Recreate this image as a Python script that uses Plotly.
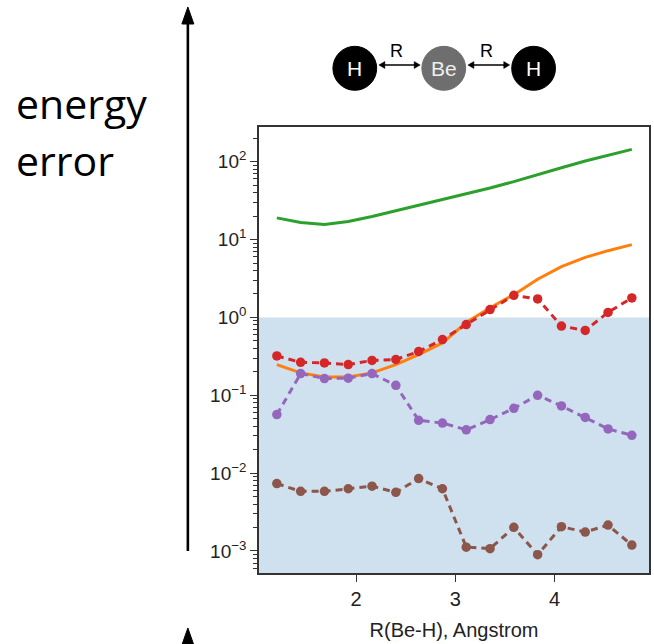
import plotly.graph_objects as go

# ---------------- data ----------------
r_vals = [1.20, 1.44, 1.68, 1.92, 2.16, 2.40, 2.63, 2.87, 3.11, 3.35, 3.59, 3.83, 4.07, 4.31, 4.54, 4.78]

green_err = [19.0, 16.6, 15.6, 17.1, 19.8, 23.4, 27.6, 32.6, 38.8, 46.0, 55.5, 68.6, 83.7, 102, 120, 144]
orange_err = [0.248, 0.194, 0.172, 0.172, 0.194, 0.248, 0.333, 0.47, 0.86, 1.33, 1.96, 3.1, 4.5, 5.9, 7.2, 8.6]
red_err = [0.32, 0.265, 0.26, 0.248, 0.28, 0.288, 0.365, 0.52, 0.81, 1.26, 1.92, 1.73, 0.775, 0.68, 1.16, 1.78]
purple_err = [0.0565, 0.19, 0.164, 0.166, 0.19, 0.134, 0.0477, 0.044, 0.036, 0.0487, 0.068, 0.10, 0.073, 0.052, 0.037, 0.0306]
brown_err = [0.00733, 0.00583, 0.00583, 0.0063, 0.0068, 0.00566, 0.0085, 0.0063, 0.00112, 0.00107, 0.00201, 0.000896, 0.00205, 0.00175, 0.00215, 0.00119]

y_tick_vals = [1e-3, 1e-2, 1e-1, 1, 10, 100]
y_tick_text = ["10<sup>\u22123</sup>", "10<sup>\u22122</sup>", "10<sup>\u22121</sup>",
               "10<sup>0</sup>", "10<sup>1</sup>", "10<sup>2</sup>"]
x_tick_vals = [2, 3, 4]
minor_vals = [m * 10 ** e for e in range(-4, 3) for m in range(2, 10)]

# ---------------- layout geometry (pixels) ----------------
W, H = 654, 644
L, R, T, B = 259, 651, 127, 573


def pxx(x):
    return (x - L) / (R - L)


def pxy(y):
    return (B - y) / (B - T)


fig = go.Figure()

fig.add_trace(go.Scatter(x=r_vals, y=orange_err, mode="lines",
                         line=dict(color="#ff7f0e", width=3), showlegend=False))
fig.add_trace(go.Scatter(x=r_vals, y=green_err, mode="lines",
                         line=dict(color="#2ca02c", width=3), showlegend=False))
for ys, col in [(red_err, "#d62728"), (purple_err, "#9467bd"), (brown_err, "#8c564b")]:
    fig.add_trace(go.Scatter(x=r_vals, y=ys, mode="lines+markers",
                             line=dict(color=col, width=3, dash="7px,5px"),
                             marker=dict(color=col, size=9.5),
                             showlegend=False))

shapes = []
# shaded region below 1
shapes.append(dict(type="rect", xref="paper", yref="y", x0=0, x1=1, y0=1e-4, y1=1,
                   fillcolor="#cfe0ee", line=dict(width=0), layer="below"))

# big energy axis arrow
ax_x = 187.5
shapes.append(dict(type="line", xref="paper", yref="paper",
                   x0=pxx(ax_x), x1=pxx(ax_x), y0=pxy(551), y1=pxy(20),
                   line=dict(color="black", width=2.6)))


def tri(tipx, tipy, basey, half):
    return (f"M {pxx(tipx)} {pxy(tipy)} L {pxx(tipx - half)} {pxy(basey)} "
            f"L {pxx(tipx + half)} {pxy(basey)} Z")


shapes.append(dict(type="path", xref="paper", yref="paper", path=tri(ax_x, 7, 24, 6),
                   fillcolor="black", line=dict(color="black", width=1)))
shapes.append(dict(type="path", xref="paper", yref="paper", path=tri(ax_x, 628, 645, 6),
                   fillcolor="black", line=dict(color="black", width=1)))

# molecule diagram
cy, rad = 68.3, 22
atoms = [(355.3, "H", "black"), (444.7, "Be", "#6e6e6e"), (535.0, "H", "black")]
for cx, lab, col in atoms:
    shapes.append(dict(type="circle", xref="paper", yref="paper",
                       x0=pxx(cx - rad), x1=pxx(cx + rad), y0=pxy(cy + rad), y1=pxy(cy - rad),
                       fillcolor=col, line=dict(color=col, width=1)))


def harrow(x0, x1, y):
    out = [dict(type="line", xref="paper", yref="paper", x0=pxx(x0 + 3), x1=pxx(x1 - 3),
                y0=pxy(y), y1=pxy(y), line=dict(color="black", width=1.6))]
    p1 = f"M {pxx(x0)} {pxy(y)} L {pxx(x0 + 6)} {pxy(y - 3.5)} L {pxx(x0 + 6)} {pxy(y + 3.5)} Z"
    p2 = f"M {pxx(x1)} {pxy(y)} L {pxx(x1 - 6)} {pxy(y - 3.5)} L {pxx(x1 - 6)} {pxy(y + 3.5)} Z"
    out.append(dict(type="path", xref="paper", yref="paper", path=p1, fillcolor="black",
                    line=dict(color="black", width=0.5)))
    out.append(dict(type="path", xref="paper", yref="paper", path=p2, fillcolor="black",
                    line=dict(color="black", width=0.5)))
    return out


shapes += harrow(379.5, 421, 65)
shapes += harrow(469, 511, 65)

annotations = []
for cx, lab, col in atoms:
    annotations.append(dict(x=pxx(cx), y=pxy(cy), xref="paper", yref="paper", text=lab,
                            showarrow=False, xanchor="center", yanchor="middle",
                            font=dict(family="Liberation Sans, Arial", size=21,
                                      color="white" if lab == "H" else "#eeeeee")))
for cx in [397, 488]:
    annotations.append(dict(x=pxx(cx), y=pxy(51), xref="paper", yref="paper", text="R",
                            showarrow=False, xanchor="center", yanchor="middle",
                            font=dict(family="Liberation Sans, Arial", size=18, color="black")))

annotations.append(dict(x=pxx(13), y=pxy(103), xref="paper", yref="paper", text="energy",
                        showarrow=False, xanchor="left", yanchor="middle",
                        font=dict(family="Open Sans", size=41, color="black")))
annotations.append(dict(x=pxx(13), y=pxy(160), xref="paper", yref="paper", text="error",
                        showarrow=False, xanchor="left", yanchor="middle",
                        font=dict(family="Open Sans", size=41, color="black")))

fig.update_layout(
    width=W, height=H,
    margin=dict(l=L, r=W - R, t=T, b=H - B),
    paper_bgcolor="white", plot_bgcolor="white",
    shapes=shapes, annotations=annotations,
    font=dict(family="Liberation Sans, Arial", color="#222222"),
)

fig.update_xaxes(
    range=[1.02, 4.953], tickvals=x_tick_vals, ticks="outside", ticklen=7, tickwidth=1.3,
    tickcolor="#333333", showline=True, linecolor="#333333", linewidth=1.6, mirror=True,
    showgrid=False, zeroline=False, tickfont=dict(size=20, color="#222222"),
    title=dict(text="R(Be-H), Angstrom", font=dict(size=20, color="#222222"), standoff=14),
)
fig.update_yaxes(
    type="log", range=[-3.283, 2.446], tickmode="array", tickvals=y_tick_vals,
    ticktext=y_tick_text, ticks="outside", ticklen=7, tickwidth=1.3, tickcolor="#333333",
    showline=True, linecolor="#333333", linewidth=1.6, mirror=True,
    showgrid=False, zeroline=False, tickfont=dict(size=19, color="#222222"),
    minor=dict(tickmode="array", tickvals=minor_vals, ticks="outside", ticklen=4,
               tickwidth=1, tickcolor="#333333", showgrid=False),
)

fig.write_html("out.html")
